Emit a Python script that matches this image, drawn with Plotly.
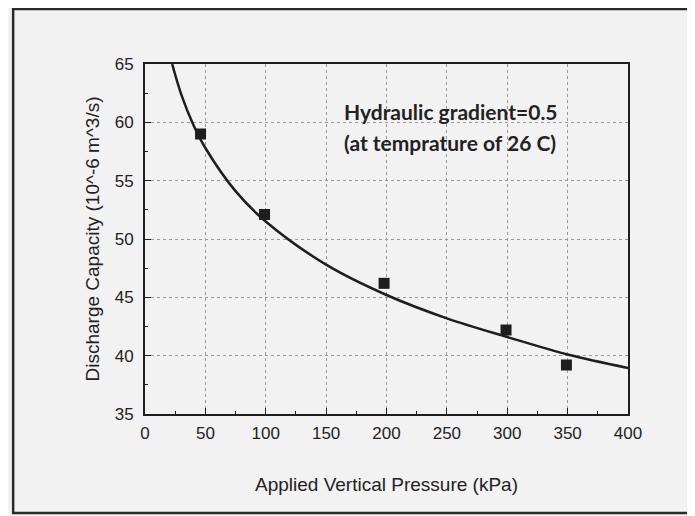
import plotly.graph_objects as go

# measured data points
pressure = [46, 99, 198, 299, 349]
capacity = [59.0, 52.1, 46.2, 42.2, 39.2]

# fitted trend curve
curve_x = [22.5, 30, 40, 50, 75, 100, 150, 200, 250, 300, 350, 400]
curve_y = [65.0, 62.4, 59.8, 57.8, 54.1, 51.5, 47.8, 45.2, 43.2, 41.6, 40.1, 38.95]

x_ticks = [0, 50, 100, 150, 200, 250, 300, 350, 400]
y_ticks = [35, 40, 45, 50, 55, 60, 65]

note_lines = ["Hydraulic gradient=0.5", "(at temprature of 26 C)"]

ink = "#1e1e1e"
bg = "#f2f2f2"

fig = go.Figure()
fig.add_trace(go.Scatter(x=curve_x, y=curve_y, mode="lines", line=dict(color=ink, width=2.5, shape="spline"),
                         showlegend=False, hoverinfo="skip"))
fig.add_trace(go.Scatter(x=pressure, y=capacity, mode="markers",
                         marker=dict(symbol="square", size=11, color=ink), showlegend=False))

tickfont = dict(family="Liberation Sans, Arial, sans-serif", size=17, color="#222")
titlefont = dict(family="Liberation Sans, Arial, sans-serif", size=19, color="#222")

fig.update_xaxes(range=[0, 400], tickvals=x_ticks, ticks="inside", ticklen=6, tickcolor=ink,
                 showline=True, linecolor=ink, linewidth=2, mirror=True,
                 showgrid=True, gridcolor="#9a9a9a", griddash="dot", gridwidth=1,
                 zeroline=False, tickfont=tickfont, ticklabelstandoff=3,
                 minor=dict(ticks="inside", ticklen=3, dtick=25, tickcolor=ink, showgrid=False),
                 title=dict(text="Applied Vertical Pressure (kPa)", font=titlefont, standoff=35))
fig.update_yaxes(range=[35, 65], tickvals=y_ticks, ticks="inside", ticklen=6, tickcolor=ink,
                 showline=True, linecolor=ink, linewidth=2, mirror=True,
                 showgrid=True, gridcolor="#9a9a9a", griddash="dot", gridwidth=1,
                 zeroline=False, tickfont=tickfont, ticklabelstandoff=6,
                 minor=dict(ticks="inside", ticklen=3, dtick=2.5, tickcolor=ink, showgrid=False),
                 title=dict(text="Discharge Capacity (10^-6 m^3/s)", font=titlefont, standoff=10))

notefont = dict(family="Lato, sans-serif", size=21, color="#222")
for txt, yv in zip(note_lines, [60.9, 58.3]):
    fig.add_annotation(x=163, y=yv, xref="x", yref="y", text="<b>" + txt + "</b>", showarrow=False,
                       xanchor="left", yanchor="middle", font=notefont)

# outer frame of the figure (right side runs off the page)
fig.add_shape(type="rect", xref="paper", yref="paper", x0=-0.273, x1=1.2, y0=-0.283, y1=1.157,
              line=dict(color="#2a2a2a", width=2.5), layer="below")

fig.update_layout(width=687, height=508, margin=dict(l=137, r=67, t=56, b=102),
                  paper_bgcolor=bg, plot_bgcolor=bg)

fig.write_html("out.html")
